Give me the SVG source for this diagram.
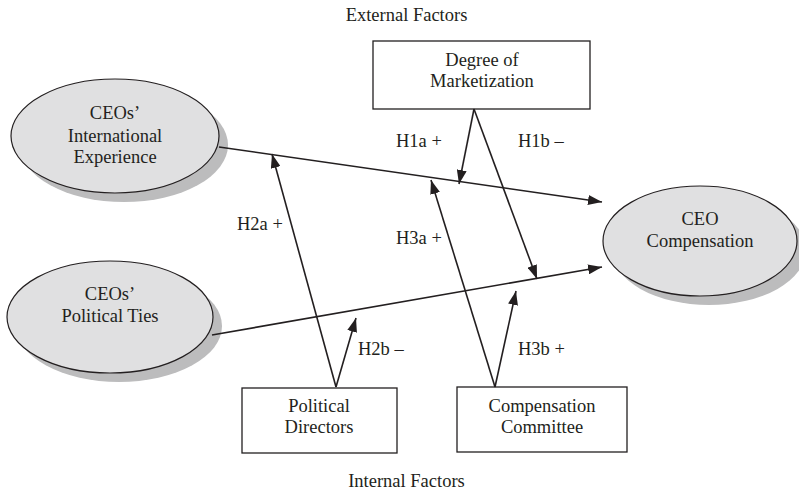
<svg xmlns="http://www.w3.org/2000/svg" width="799" height="494" viewBox="0 0 799 494">
<defs>
<style>
text{font-family:"Liberation Serif","Times New Roman",serif;font-size:18.5px;fill:#231f20;}
.c{text-anchor:middle;}
.box{fill:#fff;stroke:#231f20;stroke-width:1.3;}
.ell{fill:#e0e0e1;stroke:#231f20;stroke-width:1.2;}
.sh{fill:#bcbcbd;stroke:none;}
.ln{stroke:#231f20;stroke-width:1.6;fill:none;}
.ar{marker-end:url(#ah);}
</style>
<marker id="ah" viewBox="0 0 14 10" refX="14" refY="5" markerWidth="14" markerHeight="10" markerUnits="userSpaceOnUse" orient="auto">
<path d="M0,0 L14,5 L0,10 Z" fill="#231f20"/>
</marker>
</defs>
<rect width="799" height="494" fill="#fff"/>
<text class="c" x="406.5" y="21">External Factors</text>
<text class="c" x="406.5" y="487">Internal Factors</text>

<g id="node-intl">
<ellipse class="sh" cx="124" cy="145" rx="104" ry="57"/>
<ellipse class="ell" cx="115" cy="136" rx="104" ry="57"/>
<text class="c" x="115" y="119">CEOs’</text>
<text class="c" x="115" y="142">International</text>
<text class="c" x="115" y="163">Experience</text>
</g>
<g id="node-political">
<ellipse class="sh" cx="119" cy="326" rx="103" ry="56"/>
<ellipse class="ell" cx="110" cy="317" rx="103" ry="56"/>
<text class="c" x="110" y="300">CEOs’</text>
<text class="c" x="110" y="322">Political Ties</text>
</g>
<g id="node-ceocomp">
<ellipse class="sh" cx="709" cy="250" rx="97" ry="55"/>
<ellipse class="ell" cx="700" cy="241" rx="97" ry="55"/>
<text class="c" x="700" y="225">CEO</text>
<text class="c" x="700" y="247">Compensation</text>
</g>
<g id="node-market">
<rect class="box" x="373" y="41" width="217" height="68"/>
<text class="c" x="482" y="66">Degree of</text>
<text class="c" x="482" y="87">Marketization</text>
</g>
<g id="node-poldir">
<rect class="box" x="242" y="388" width="155" height="65"/>
<text class="c" x="319" y="412">Political</text>
<text class="c" x="319" y="433">Directors</text>
</g>
<g id="node-compcomm">
<rect class="box" x="457" y="387" width="170" height="65"/>
<text class="c" x="542" y="412">Compensation</text>
<text class="c" x="542" y="433">Committee</text>
</g>

<g id="connectors">
<line class="ln ar" x1="219" y1="147" x2="602" y2="202"/>
<line class="ln ar" x1="212" y1="335" x2="602" y2="267"/>
<line class="ln ar" x1="336" y1="387" x2="272" y2="154"/>
<line class="ln ar" x1="336" y1="387" x2="356" y2="318"/>
<line class="ln ar" x1="495" y1="387" x2="431" y2="180"/>
<line class="ln ar" x1="495" y1="387" x2="516" y2="291"/>
<line class="ln ar" x1="474" y1="109" x2="459" y2="184"/>
<line class="ln ar" x1="474" y1="109" x2="537" y2="279"/>
</g>
<g id="labels">
<text x="396" y="147">H1a +</text>
<text x="518" y="147">H1b –</text>
<text x="237" y="230">H2a +</text>
<text x="396" y="244">H3a +</text>
<text x="358" y="355">H2b –</text>
<text x="518" y="355">H3b +</text>
</g>
</svg>
